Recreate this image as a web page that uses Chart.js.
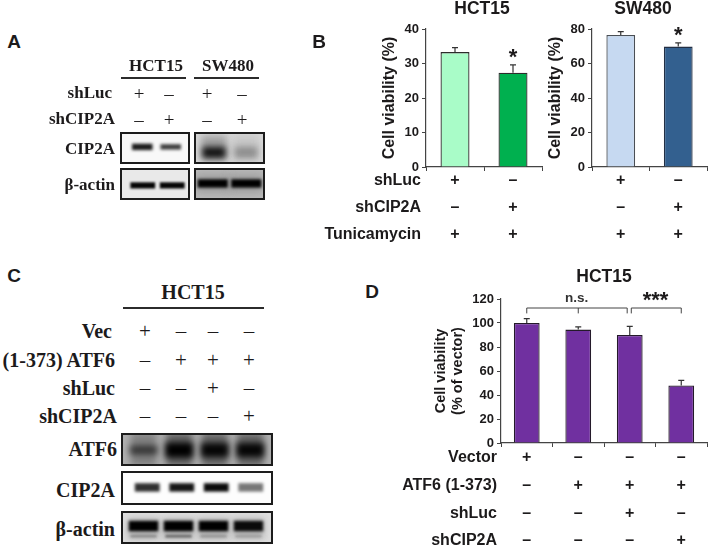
<!DOCTYPE html>
<html>
<head>
<meta charset="utf-8">
<script src="https://cdn.jsdelivr.net/npm/chart.js@4"></script>
<style>
  html, body { margin: 0; background: #fff; overflow: hidden; }
  #page { position: relative; width: 709px; height: 548px; }
  canvas { position: absolute; }
  .lbl { position: absolute; white-space: nowrap; line-height: 1; color: #1c1a1b; }
  .rule { position: absolute; background: #2b2b2b; height: 2px; }
  .frame { position: absolute; border: 2px solid #1c1c1c; box-sizing: border-box; overflow: hidden; }
  .frame canvas { left: 0; top: 0; }
</style>
</head>
<body>
<div id="page"></div>
<script>
// bar charts
const twoGroups = ['shLuc', 'shCIP2A'];
const hct15Viability = [33.3, 27.3];
const hct15Upper = [34.6, 29.6];
const sw480Viability = [76.5, 69.8];
const sw480Upper = [78.5, 72];

const atf6Groups = ['Vector', 'ATF6', 'ATF6 shLuc', 'ATF6 shCIP2A'];
const atf6Viability = [100, 94.5, 90, 48];
const atf6Upper = [103.6, 96.7, 97.2, 52.2];

// treatment tables
const rowsB = ['shLuc', 'shCIP2A', 'Tunicamycin'];
const marksB = [['+', '–'], ['–', '+'], ['+', '+']];
const rowsD = ['Vector', 'ATF6 (1-373)', 'shLuc', 'shCIP2A'];
const marksD = [['+', '–', '–', '–'], ['–', '+', '+', '+'], ['–', '–', '+', '–'], ['–', '–', '–', '+']];
const rowsA = ['shLuc', 'shCIP2A'];
const marksA = [['+', '–', '+', '–'], ['–', '+', '–', '+']];
const rowsC = ['Vec', '(1-373) ATF6', 'shLuc', 'shCIP2A'];
const marksC = [['+', '–', '–', '–'], ['–', '+', '+', '+'], ['–', '–', '+', '–'], ['–', '–', '–', '+']];

// blot band strength per lane, 0-1
const aHctCip2a = [0.95, 0.8];
const aSwCip2a = [0.95, 0.3];
const aHctActin = [1, 1];
const aSwActin = [1, 1];
const cAtf6 = [0.6, 1, 0.95, 0.95];
const cCip2a = [0.85, 0.95, 1, 0.55];
const cActin = [1, 1, 1, 0.95];
const cActinLower = [0.3, 0.5, 0.25, 0.2];

const ink = '#1c1a1b';
const page = document.getElementById('page');

function put(text, x, y, font, align) {
  const el = document.createElement('div');
  el.className = 'lbl';
  el.textContent = text;
  el.style.left = x + 'px';
  el.style.top = y + 'px';
  el.style.font = font;
  el.style.lineHeight = '1';
  const dx = align === 'right' ? '-100%' : align === 'left' ? '0' : '-50%';
  el.style.transform = `translate(${dx}, -50%)`;
  page.appendChild(el);
}

function addCanvas(parent, x, y, w, h) {
  const c = document.createElement('canvas');
  c.width = w;
  c.height = h;
  c.style.width = w + 'px';
  c.style.height = h + 'px';
  if (parent === page) {
    c.style.left = x + 'px';
    c.style.top = y + 'px';
  }
  parent.appendChild(c);
  return c;
}

// whiskers, stars, brackets and +/- rows all hang off the chart's own scales
const extras = {
  id: 'extras',
  afterDatasetsDraw(chart, args, opts) {
    const { ctx, scales: { x, y } } = chart;
    ctx.save();
    ctx.strokeStyle = '#333';
    ctx.lineWidth = 1.2;
    (opts.upper || []).forEach((top, i) => {
      const px = x.getPixelForValue(i);
      ctx.beginPath();
      ctx.moveTo(px, y.getPixelForValue(chart.data.datasets[0].data[i]));
      ctx.lineTo(px, y.getPixelForValue(top));
      ctx.moveTo(px - 3, y.getPixelForValue(top));
      ctx.lineTo(px + 3, y.getPixelForValue(top));
      ctx.stroke();
    });
    ctx.strokeStyle = '#444';
    ctx.lineWidth = 1;
    (opts.brackets || []).forEach(b => {
      ctx.beginPath();
      b.drops.forEach(d => {
        ctx.moveTo(x.getPixelForValue(d), y.getPixelForValue(b.top));
        ctx.lineTo(x.getPixelForValue(d), y.getPixelForValue(b.low));
      });
      ctx.moveTo(x.getPixelForValue(b.drops[0]), y.getPixelForValue(b.top));
      ctx.lineTo(x.getPixelForValue(b.drops[b.drops.length - 1]), y.getPixelForValue(b.top));
      ctx.stroke();
    });
    ctx.textAlign = 'center';
    ctx.textBaseline = 'alphabetic';
    (opts.notes || []).forEach(n => {
      ctx.fillStyle = n.color || ink;
      ctx.font = n.font;
      ctx.fillText(n.text, x.getPixelForValue(n.at), y.getPixelForValue(n.value));
    });
    ctx.textBaseline = 'middle';
    ctx.fillStyle = ink;
    ctx.font = 'bold 16px "Liberation Sans"';
    (opts.marks || []).forEach((row, r) => {
      row.forEach((m, i) => ctx.fillText(m, x.getPixelForValue(i), opts.rowY[r]));
    });
    ctx.textAlign = 'right';
    (opts.rows || []).forEach((name, r) => ctx.fillText(name, opts.rowRight, opts.rowY[r]));
    if (opts.title) {
      ctx.textAlign = 'center';
      ctx.font = 'bold 17.5px "Liberation Sans"';
      ctx.fillText(opts.title, opts.titleX, opts.titleY);
    }
    ctx.restore();
  }
};

function barChart(box, area, labels, values, colors, borders, yMax, step, yTitle, titleFont, extra) {
  const canvas = addCanvas(page, box.x, box.y, box.w, box.h);
  const tickFont = { family: 'Liberation Sans', weight: 'bold', size: 13 };
  return new Chart(canvas, {
    type: 'bar',
    data: {
      labels,
      datasets: [{
        data: values,
        backgroundColor: colors,
        borderColor: borders,
        borderWidth: 1.3,
        barPercentage: 0.5,
        categoryPercentage: 1
      }]
    },
    plugins: [extras],
    options: {
      responsive: false,
      animation: false,
      layout: {
        padding: {
          left: area.left - box.x - area.yWidth,
          right: box.x + box.w - area.right,
          top: area.top - box.y,
          bottom: 0
        }
      },
      plugins: {
        legend: { display: false },
        tooltip: { enabled: false },
        extras: extra
      },
      scales: {
        x: {
          afterFit: s => { s.height = box.y + box.h - area.bottom; },
          ticks: { display: false },
          border: { color: '#444', width: 1.2 },
          grid: { offset: true, drawOnChartArea: false, tickLength: 4, color: '#444' }
        },
        y: {
          min: 0,
          max: yMax,
          afterFit: s => { s.width = area.yWidth; },
          ticks: { stepSize: step, color: ink, font: tickFont, padding: 3 },
          border: { color: '#444', width: 1.2 },
          grid: { drawOnChartArea: false, tickLength: 4, color: '#444' },
          title: {
            display: true,
            text: yTitle,
            color: ink,
            font: titleFont,
            padding: { top: 0, bottom: 0 }
          }
        }
      }
    }
  });
}

const bRowY = [181, 208, 235];
const titleB = { family: 'Liberation Sans', weight: 'bold', size: 16 };

barChart({ x: 320, y: 0, w: 225, h: 245 }, { left: 426, right: 542, top: 29, bottom: 167, yWidth: 46 },
  twoGroups, hct15Viability, ['#a9fcc8', '#00b04f'], ['#2c2c2c', '#2c2c2c'], 40, 10, 'Cell viability (%)', titleB, {
    upper: hct15Upper,
    marks: marksB, rows: rowsB, rowY: bRowY, rowRight: 101,
    title: 'HCT15', titleX: 162, titleY: 9,
    notes: [{ text: '*', at: 1, value: 30, font: 'bold 22px "Liberation Sans"' }]
  });

barChart({ x: 546, y: 0, w: 163, h: 245 }, { left: 592, right: 707, top: 29, bottom: 167, yWidth: 46 },
  twoGroups, sw480Viability, ['#c6d9f1', '#33608f'], ['#4a4f55', '#222f44'], 80, 20, 'Cell viability (%)', titleB, {
    upper: sw480Upper,
    marks: marksB, rowY: bRowY,
    title: 'SW480', titleX: 97, titleY: 9,
    notes: [{ text: '*', at: 1, value: 72.7, font: 'bold 22px "Liberation Sans"' }]
  });

barChart({ x: 380, y: 265, w: 329, h: 283 }, { left: 501, right: 707, top: 299, bottom: 443, yWidth: 69 },
  atf6Groups, atf6Viability, '#7030a0', '#241a2a', 120, 20, ['Cell viability', '(% of vector)'],
  { family: 'Liberation Sans', weight: 'bold', size: 14.5 }, {
    upper: atf6Upper,
    marks: marksD, rows: rowsD, rowY: [193, 221, 249, 276], rowRight: 117,
    title: 'HCT15', titleX: 224, titleY: 12,
    brackets: [
      { drops: [0, 1, 1.95], top: 112.5, low: 108 },
      { drops: [2.03, 3], top: 112.5, low: 108 }
    ],
    notes: [
      { text: 'n.s.', at: 0.97, value: 117.5, font: 'bold 13.5px "Liberation Sans"', color: '#333' },
      { text: '***', at: 2.5, value: 113.5, font: 'bold 22px "Liberation Sans"' }
    ]
  });

// one western blot panel: a small hidden-axis bar chart, bands blurred through ctx.filter
const blurBands = {
  id: 'blurBands',
  beforeDraw(chart, args, opts) {
    chart.ctx.fillStyle = opts.bg;
    chart.ctx.fillRect(0, 0, chart.width, chart.height);
  },
  beforeDatasetDraw(chart, args) {
    chart.ctx.save();
    chart.ctx.filter = `blur(${chart.data.datasets[args.index].blur}px)`;
  },
  afterDatasetDraw(chart) {
    chart.ctx.restore();
  }
};

function blot(x, y, w, h, lanes, bg, padL, padR, layers) {
  const frame = document.createElement('div');
  frame.className = 'frame';
  frame.style.cssText = `left:${x}px;top:${y}px;width:${w}px;height:${h}px`;
  page.appendChild(frame);
  const canvas = addCanvas(frame, 0, 0, w - 4, h - 4);
  // chart.js paints dataset 0 last, so flip to keep the last layer on top
  const painted = layers.slice().reverse();
  new Chart(canvas, {
    type: 'bar',
    data: {
      labels: lanes.map((_, i) => 'lane ' + (i + 1)),
      datasets: painted.map(l => ({
        data: l.strength.map(v => [l.center - l.thick * (l.grow ? v : 1) / 2, l.center + l.thick * (l.grow ? v : 1) / 2]),
        backgroundColor: l.strength.map(v => `rgba(${l.rgb},${l.fade ? v * l.fade : v})`),
        borderWidth: 0,
        barPercentage: l.width,
        categoryPercentage: 1,
        grouped: false,
        clip: false,
        blur: l.blur
      }))
    },
    plugins: [blurBands],
    options: {
      responsive: false,
      animation: false,
      layout: { padding: { left: padL, right: padR } },
      plugins: { legend: { display: false }, tooltip: { enabled: false }, blurBands: { bg } },
      scales: {
        x: { display: false },
        y: { display: false, min: 0, max: 100 }
      }
    }
  });
}

blot(120, 132, 70, 32, aHctCip2a, '#f8f8f8', 6, 3, [
  { strength: aHctCip2a, center: 54, thick: 24, width: 0.72, rgb: '15,15,15', blur: 1.6, grow: true }
]);
blot(194, 132, 71, 32, aSwCip2a, '#d8d8d8', 2, 1, [
  { strength: aSwCip2a, center: 50, thick: 90, width: 0.8, rgb: '90,90,90', blur: 3.5, fade: 0.45 },
  { strength: aSwCip2a, center: 34, thick: 40, width: 0.72, rgb: '10,10,10', blur: 3 }
]);
blot(120, 168, 70, 32, aHctActin, '#e9e9e9', 6, 1, [
  { strength: aHctActin, center: 45, thick: 22, width: 0.84, rgb: '5,5,5', blur: 1.3 }
]);
blot(194, 168, 71, 32, aSwActin, '#bcbcbc', 0, 0, [
  { strength: aSwActin, center: 52, thick: 70, width: 1, rgb: '110,110,110', blur: 4, fade: 0.35 },
  { strength: aSwActin, center: 52, thick: 30, width: 0.9, rgb: '0,0,0', blur: 1.5 }
]);

blot(121, 433, 152, 33, cAtf6, '#b0b0b0', 3, 3, [
  { strength: cAtf6, center: 50, thick: 120, width: 0.74, rgb: '50,50,50', blur: 3.5, fade: 0.6 },
  { strength: cAtf6, center: 48, thick: 52, width: 0.78, rgb: '0,0,0', blur: 3, grow: true }
]);
blot(121, 471, 152, 34, cCip2a, '#fdfdfd', 7, 3, [
  { strength: cCip2a, center: 52, thick: 28, width: 0.72, rgb: '10,10,10', blur: 1.6 }
]);
blot(121, 511, 152, 33, cActin, '#dedede', 3, 5, [
  { strength: cActin, center: 45, thick: 70, width: 0.9, rgb: '120,120,120', blur: 3.5, fade: 0.4 },
  { strength: cActinLower, center: 20, thick: 10, width: 0.75, rgb: '30,30,30', blur: 1.2 },
  { strength: cActin, center: 55, thick: 36, width: 0.84, rgb: '0,0,0', blur: 1.8 }
]);

// panel letters
const letter = 'bold 19px "Liberation Sans"';
put('A', 14, 41, letter);
put('B', 319, 41, letter);
put('C', 14, 275, letter);
put('D', 372, 291, letter);

// panel A text
const serifA = 'bold 17px "Liberation Serif"';
const lightA = '19px "Liberation Serif"';
put('HCT15', 156, 65, serifA);
put('SW480', 228, 65, serifA);
[[121, 65], [194, 65]].forEach(r => {
  const el = document.createElement('div');
  el.className = 'rule';
  el.style.cssText = `left:${r[0]}px;top:77px;width:${r[1]}px`;
  page.appendChild(el);
});
const aX = [139, 169, 207, 242];
const aY = [92, 118];
rowsA.forEach((name, r) => {
  put(name, r ? 115 : 112, aY[r], serifA, 'right');
  marksA[r].forEach((m, i) => put(m, aX[i], aY[r] + 1, lightA));
});
put('CIP2A', 115, 148, serifA, 'right');
put('β-actin', 115, 184, serifA, 'right');

// panel C text
const serifC = 'bold 20px "Liberation Serif"';
const lightC = '21px "Liberation Serif"';
put('HCT15', 193, 292, serifC);
const ruleC = document.createElement('div');
ruleC.className = 'rule';
ruleC.style.cssText = 'left:123px;top:307px;width:141px';
page.appendChild(ruleC);
const cX = [145, 181, 213, 249];
const cY = [331, 360, 388, 416];
const cRight = [112, 115, 115, 117];
rowsC.forEach((name, r) => {
  put(name, cRight[r], cY[r], serifC, 'right');
  marksC[r].forEach((m, i) => put(m, cX[i], cY[r], lightC));
});
put('ATF6', 117, 449, serifC, 'right');
put('CIP2A', 115, 490, serifC, 'right');
put('β-actin', 115, 529, serifC, 'right');
</script>
</body>
</html>
